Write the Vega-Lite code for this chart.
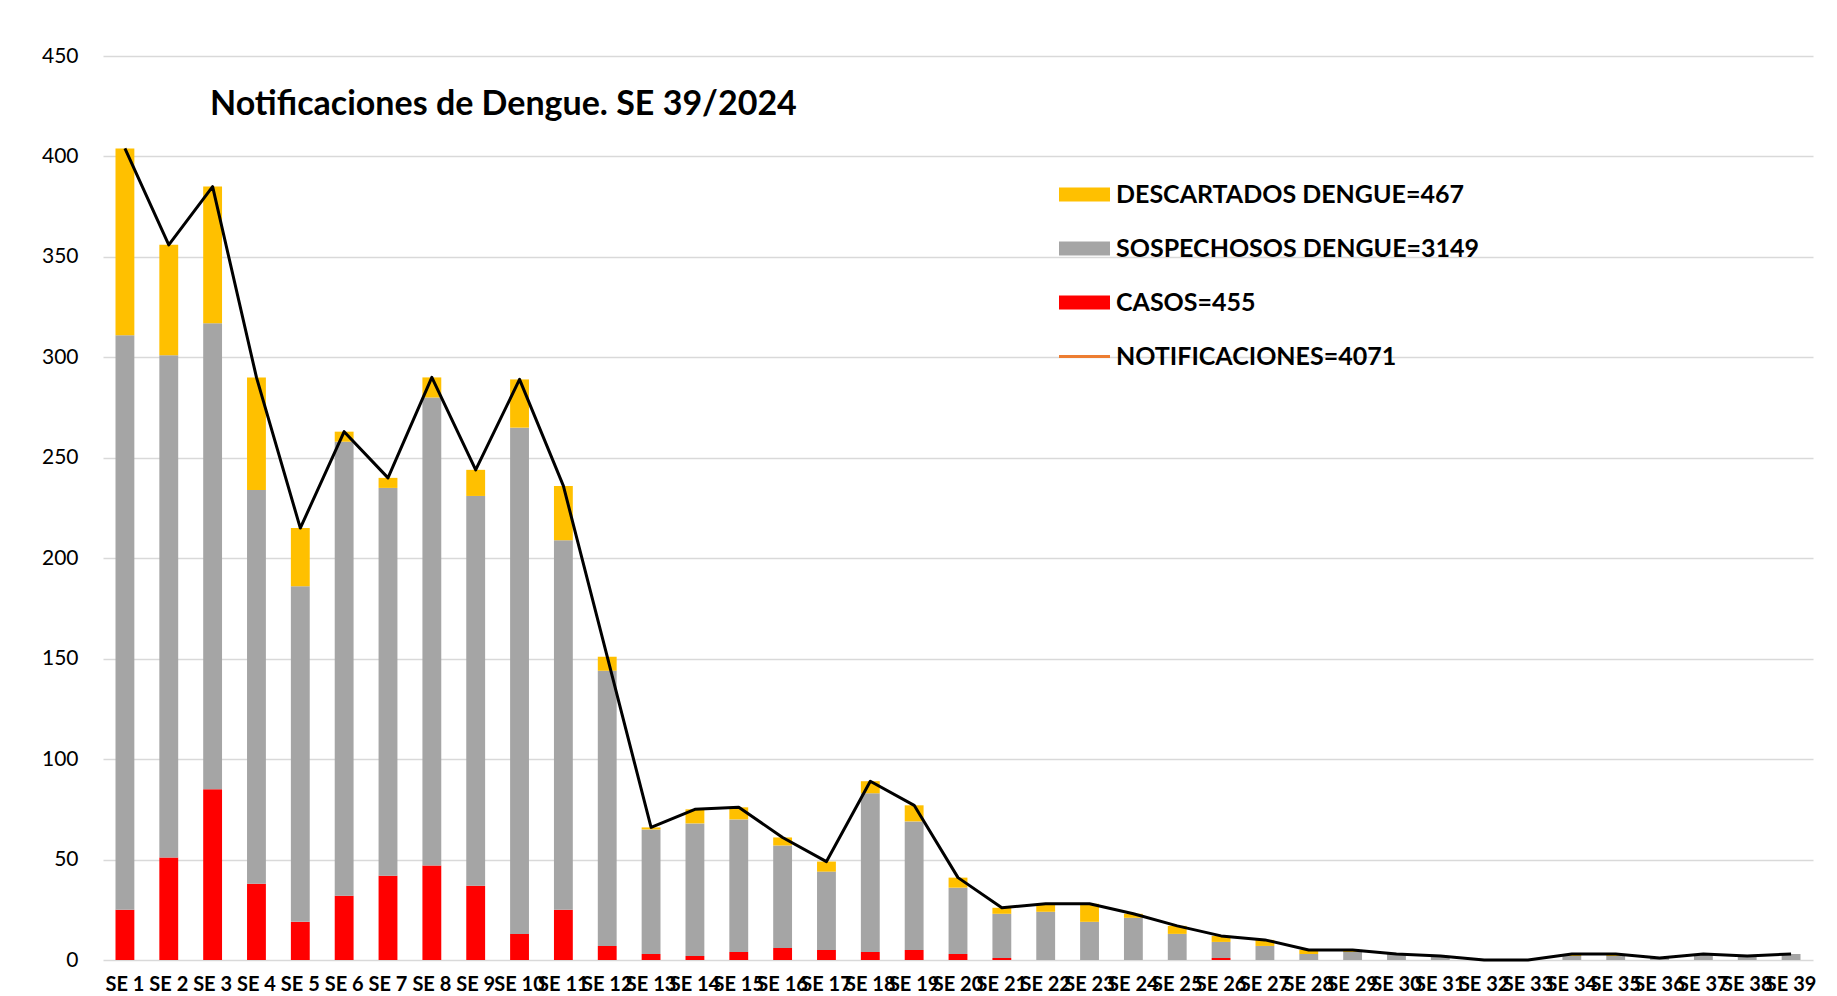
{
"$schema": "https://vega.github.io/schema/vega-lite/v6.json",
"width": 1710, "height": 904,
"autosize": {"type": "none"},
"padding": {"left": 103, "top": 56, "right": 24, "bottom": 36},
"background": "white",
"config": {"font": "Lato", "view": {"stroke": null}},
"title": {"text": "Notificaciones de Dengue. SE 39/2024", "anchor": "start", "frame": "group", "dx": 107, "offset": -104, "baseline": "alphabetic", "fontSize": 34, "fontWeight": "bold", "color": "#000000", "font": "Lato"},
"data": {"values": [
{"semana":"SE 1","serie":"CASOS=455","valor":25},{"semana":"SE 1","serie":"SOSPECHOSOS DENGUE=3149","valor":286},{"semana":"SE 1","serie":"DESCARTADOS DENGUE=467","valor":93},{"semana":"SE 1","serie":"NOTIFICACIONES=4071","valor":404},
{"semana":"SE 2","serie":"CASOS=455","valor":51},{"semana":"SE 2","serie":"SOSPECHOSOS DENGUE=3149","valor":250},{"semana":"SE 2","serie":"DESCARTADOS DENGUE=467","valor":55},{"semana":"SE 2","serie":"NOTIFICACIONES=4071","valor":356},
{"semana":"SE 3","serie":"CASOS=455","valor":85},{"semana":"SE 3","serie":"SOSPECHOSOS DENGUE=3149","valor":232},{"semana":"SE 3","serie":"DESCARTADOS DENGUE=467","valor":68},{"semana":"SE 3","serie":"NOTIFICACIONES=4071","valor":385},
{"semana":"SE 4","serie":"CASOS=455","valor":38},{"semana":"SE 4","serie":"SOSPECHOSOS DENGUE=3149","valor":196},{"semana":"SE 4","serie":"DESCARTADOS DENGUE=467","valor":56},{"semana":"SE 4","serie":"NOTIFICACIONES=4071","valor":290},
{"semana":"SE 5","serie":"CASOS=455","valor":19},{"semana":"SE 5","serie":"SOSPECHOSOS DENGUE=3149","valor":167},{"semana":"SE 5","serie":"DESCARTADOS DENGUE=467","valor":29},{"semana":"SE 5","serie":"NOTIFICACIONES=4071","valor":215},
{"semana":"SE 6","serie":"CASOS=455","valor":32},{"semana":"SE 6","serie":"SOSPECHOSOS DENGUE=3149","valor":226},{"semana":"SE 6","serie":"DESCARTADOS DENGUE=467","valor":5},{"semana":"SE 6","serie":"NOTIFICACIONES=4071","valor":263},
{"semana":"SE 7","serie":"CASOS=455","valor":42},{"semana":"SE 7","serie":"SOSPECHOSOS DENGUE=3149","valor":193},{"semana":"SE 7","serie":"DESCARTADOS DENGUE=467","valor":5},{"semana":"SE 7","serie":"NOTIFICACIONES=4071","valor":240},
{"semana":"SE 8","serie":"CASOS=455","valor":47},{"semana":"SE 8","serie":"SOSPECHOSOS DENGUE=3149","valor":233},{"semana":"SE 8","serie":"DESCARTADOS DENGUE=467","valor":10},{"semana":"SE 8","serie":"NOTIFICACIONES=4071","valor":290},
{"semana":"SE 9","serie":"CASOS=455","valor":37},{"semana":"SE 9","serie":"SOSPECHOSOS DENGUE=3149","valor":194},{"semana":"SE 9","serie":"DESCARTADOS DENGUE=467","valor":13},{"semana":"SE 9","serie":"NOTIFICACIONES=4071","valor":244},
{"semana":"SE 10","serie":"CASOS=455","valor":13},{"semana":"SE 10","serie":"SOSPECHOSOS DENGUE=3149","valor":252},{"semana":"SE 10","serie":"DESCARTADOS DENGUE=467","valor":24},{"semana":"SE 10","serie":"NOTIFICACIONES=4071","valor":289},
{"semana":"SE 11","serie":"CASOS=455","valor":25},{"semana":"SE 11","serie":"SOSPECHOSOS DENGUE=3149","valor":184},{"semana":"SE 11","serie":"DESCARTADOS DENGUE=467","valor":27},{"semana":"SE 11","serie":"NOTIFICACIONES=4071","valor":236},
{"semana":"SE 12","serie":"CASOS=455","valor":7},{"semana":"SE 12","serie":"SOSPECHOSOS DENGUE=3149","valor":137},{"semana":"SE 12","serie":"DESCARTADOS DENGUE=467","valor":7},{"semana":"SE 12","serie":"NOTIFICACIONES=4071","valor":151},
{"semana":"SE 13","serie":"CASOS=455","valor":3},{"semana":"SE 13","serie":"SOSPECHOSOS DENGUE=3149","valor":62},{"semana":"SE 13","serie":"DESCARTADOS DENGUE=467","valor":1},{"semana":"SE 13","serie":"NOTIFICACIONES=4071","valor":66},
{"semana":"SE 14","serie":"CASOS=455","valor":2},{"semana":"SE 14","serie":"SOSPECHOSOS DENGUE=3149","valor":66},{"semana":"SE 14","serie":"DESCARTADOS DENGUE=467","valor":7},{"semana":"SE 14","serie":"NOTIFICACIONES=4071","valor":75},
{"semana":"SE 15","serie":"CASOS=455","valor":4},{"semana":"SE 15","serie":"SOSPECHOSOS DENGUE=3149","valor":66},{"semana":"SE 15","serie":"DESCARTADOS DENGUE=467","valor":6},{"semana":"SE 15","serie":"NOTIFICACIONES=4071","valor":76},
{"semana":"SE 16","serie":"CASOS=455","valor":6},{"semana":"SE 16","serie":"SOSPECHOSOS DENGUE=3149","valor":51},{"semana":"SE 16","serie":"DESCARTADOS DENGUE=467","valor":4},{"semana":"SE 16","serie":"NOTIFICACIONES=4071","valor":61},
{"semana":"SE 17","serie":"CASOS=455","valor":5},{"semana":"SE 17","serie":"SOSPECHOSOS DENGUE=3149","valor":39},{"semana":"SE 17","serie":"DESCARTADOS DENGUE=467","valor":5},{"semana":"SE 17","serie":"NOTIFICACIONES=4071","valor":49},
{"semana":"SE 18","serie":"CASOS=455","valor":4},{"semana":"SE 18","serie":"SOSPECHOSOS DENGUE=3149","valor":79},{"semana":"SE 18","serie":"DESCARTADOS DENGUE=467","valor":6},{"semana":"SE 18","serie":"NOTIFICACIONES=4071","valor":89},
{"semana":"SE 19","serie":"CASOS=455","valor":5},{"semana":"SE 19","serie":"SOSPECHOSOS DENGUE=3149","valor":64},{"semana":"SE 19","serie":"DESCARTADOS DENGUE=467","valor":8},{"semana":"SE 19","serie":"NOTIFICACIONES=4071","valor":77},
{"semana":"SE 20","serie":"CASOS=455","valor":3},{"semana":"SE 20","serie":"SOSPECHOSOS DENGUE=3149","valor":33},{"semana":"SE 20","serie":"DESCARTADOS DENGUE=467","valor":5},{"semana":"SE 20","serie":"NOTIFICACIONES=4071","valor":41},
{"semana":"SE 21","serie":"CASOS=455","valor":1},{"semana":"SE 21","serie":"SOSPECHOSOS DENGUE=3149","valor":22},{"semana":"SE 21","serie":"DESCARTADOS DENGUE=467","valor":3},{"semana":"SE 21","serie":"NOTIFICACIONES=4071","valor":26},
{"semana":"SE 22","serie":"CASOS=455","valor":0},{"semana":"SE 22","serie":"SOSPECHOSOS DENGUE=3149","valor":24},{"semana":"SE 22","serie":"DESCARTADOS DENGUE=467","valor":4},{"semana":"SE 22","serie":"NOTIFICACIONES=4071","valor":28},
{"semana":"SE 23","serie":"CASOS=455","valor":0},{"semana":"SE 23","serie":"SOSPECHOSOS DENGUE=3149","valor":19},{"semana":"SE 23","serie":"DESCARTADOS DENGUE=467","valor":9},{"semana":"SE 23","serie":"NOTIFICACIONES=4071","valor":28},
{"semana":"SE 24","serie":"CASOS=455","valor":0},{"semana":"SE 24","serie":"SOSPECHOSOS DENGUE=3149","valor":21},{"semana":"SE 24","serie":"DESCARTADOS DENGUE=467","valor":2},{"semana":"SE 24","serie":"NOTIFICACIONES=4071","valor":23},
{"semana":"SE 25","serie":"CASOS=455","valor":0},{"semana":"SE 25","serie":"SOSPECHOSOS DENGUE=3149","valor":13},{"semana":"SE 25","serie":"DESCARTADOS DENGUE=467","valor":4},{"semana":"SE 25","serie":"NOTIFICACIONES=4071","valor":17},
{"semana":"SE 26","serie":"CASOS=455","valor":1},{"semana":"SE 26","serie":"SOSPECHOSOS DENGUE=3149","valor":8},{"semana":"SE 26","serie":"DESCARTADOS DENGUE=467","valor":3},{"semana":"SE 26","serie":"NOTIFICACIONES=4071","valor":12},
{"semana":"SE 27","serie":"CASOS=455","valor":0},{"semana":"SE 27","serie":"SOSPECHOSOS DENGUE=3149","valor":7},{"semana":"SE 27","serie":"DESCARTADOS DENGUE=467","valor":3},{"semana":"SE 27","serie":"NOTIFICACIONES=4071","valor":10},
{"semana":"SE 28","serie":"CASOS=455","valor":0},{"semana":"SE 28","serie":"SOSPECHOSOS DENGUE=3149","valor":3},{"semana":"SE 28","serie":"DESCARTADOS DENGUE=467","valor":2},{"semana":"SE 28","serie":"NOTIFICACIONES=4071","valor":5},
{"semana":"SE 29","serie":"CASOS=455","valor":0},{"semana":"SE 29","serie":"SOSPECHOSOS DENGUE=3149","valor":4},{"semana":"SE 29","serie":"DESCARTADOS DENGUE=467","valor":1},{"semana":"SE 29","serie":"NOTIFICACIONES=4071","valor":5},
{"semana":"SE 30","serie":"CASOS=455","valor":0},{"semana":"SE 30","serie":"SOSPECHOSOS DENGUE=3149","valor":3},{"semana":"SE 30","serie":"DESCARTADOS DENGUE=467","valor":0},{"semana":"SE 30","serie":"NOTIFICACIONES=4071","valor":3},
{"semana":"SE 31","serie":"CASOS=455","valor":0},{"semana":"SE 31","serie":"SOSPECHOSOS DENGUE=3149","valor":2},{"semana":"SE 31","serie":"DESCARTADOS DENGUE=467","valor":0},{"semana":"SE 31","serie":"NOTIFICACIONES=4071","valor":2},
{"semana":"SE 32","serie":"CASOS=455","valor":0},{"semana":"SE 32","serie":"SOSPECHOSOS DENGUE=3149","valor":0},{"semana":"SE 32","serie":"DESCARTADOS DENGUE=467","valor":0},{"semana":"SE 32","serie":"NOTIFICACIONES=4071","valor":0},
{"semana":"SE 33","serie":"CASOS=455","valor":0},{"semana":"SE 33","serie":"SOSPECHOSOS DENGUE=3149","valor":0},{"semana":"SE 33","serie":"DESCARTADOS DENGUE=467","valor":0},{"semana":"SE 33","serie":"NOTIFICACIONES=4071","valor":0},
{"semana":"SE 34","serie":"CASOS=455","valor":0},{"semana":"SE 34","serie":"SOSPECHOSOS DENGUE=3149","valor":2},{"semana":"SE 34","serie":"DESCARTADOS DENGUE=467","valor":1},{"semana":"SE 34","serie":"NOTIFICACIONES=4071","valor":3},
{"semana":"SE 35","serie":"CASOS=455","valor":0},{"semana":"SE 35","serie":"SOSPECHOSOS DENGUE=3149","valor":2},{"semana":"SE 35","serie":"DESCARTADOS DENGUE=467","valor":1},{"semana":"SE 35","serie":"NOTIFICACIONES=4071","valor":3},
{"semana":"SE 36","serie":"CASOS=455","valor":0},{"semana":"SE 36","serie":"SOSPECHOSOS DENGUE=3149","valor":1},{"semana":"SE 36","serie":"DESCARTADOS DENGUE=467","valor":0},{"semana":"SE 36","serie":"NOTIFICACIONES=4071","valor":1},
{"semana":"SE 37","serie":"CASOS=455","valor":0},{"semana":"SE 37","serie":"SOSPECHOSOS DENGUE=3149","valor":3},{"semana":"SE 37","serie":"DESCARTADOS DENGUE=467","valor":0},{"semana":"SE 37","serie":"NOTIFICACIONES=4071","valor":3},
{"semana":"SE 38","serie":"CASOS=455","valor":0},{"semana":"SE 38","serie":"SOSPECHOSOS DENGUE=3149","valor":2},{"semana":"SE 38","serie":"DESCARTADOS DENGUE=467","valor":0},{"semana":"SE 38","serie":"NOTIFICACIONES=4071","valor":2},
{"semana":"SE 39","serie":"CASOS=455","valor":0},{"semana":"SE 39","serie":"SOSPECHOSOS DENGUE=3149","valor":3},{"semana":"SE 39","serie":"DESCARTADOS DENGUE=467","valor":0},{"semana":"SE 39","serie":"NOTIFICACIONES=4071","valor":3}
]},
"encoding": {
  "x": {"field": "semana", "type": "nominal", "sort": null, "title": null,
    "scale": {"paddingInner": 0.57, "paddingOuter": 0.285},
    "axis": {"domain": false, "ticks": false, "grid": false, "labelAngle": 0, "labelFontSize": 20, "labelFontWeight": "bold", "labelColor": "#000000", "labelPadding": 14, "labelOverlap": false, "labelBound": false, "labelFont": "Lato", "labelLimit": 0}},
  "y": {"field": "valor", "type": "quantitative", "title": null,
    "scale": {"domain": [0, 450], "nice": false},
    "axis": {"values": [0,50,100,150,200,250,300,350,400,450], "domain": false, "ticks": false, "labelFontSize": 21, "labelColor": "#000000", "labelPadding": 25, "gridColor": "#D9D9D9", "gridWidth": 1.5, "labelFont": "Lato"}}
},
"layer": [
  {"transform": [
     {"filter": "datum.serie !== 'NOTIFICACIONES=4071'"},
     {"lookup": "serie", "from": {"data": {"values": [
        {"serie": "CASOS=455", "orden": 1},
        {"serie": "SOSPECHOSOS DENGUE=3149", "orden": 2},
        {"serie": "DESCARTADOS DENGUE=467", "orden": 3}]}, "key": "serie", "fields": ["orden"]}}
   ],
   "mark": {"type": "bar"},
   "encoding": {
     "y": {"field": "valor", "type": "quantitative", "stack": "zero"},
     "order": {"field": "orden", "type": "quantitative", "sort": "ascending"},
     "color": {"field": "serie", "type": "nominal",
       "scale": {"domain": ["DESCARTADOS DENGUE=467", "SOSPECHOSOS DENGUE=3149", "CASOS=455", "NOTIFICACIONES=4071"], "range": ["#FFC000", "#A5A5A5", "#FF0000", "#ED7D31"]},
       "legend": {"orient": "none", "legendX": 956, "legendY": 113, "title": null,
         "symbolType": "M-1,-0.275L1,-0.275L1,0.275L-1,0.275Z", "symbolSize": 2601, "symbolStrokeWidth": 0,
         "labelFontSize": 25, "labelFontWeight": "bold", "labelColor": "#000000", "labelFont": "Lato", "labelOffset": 6, "labelLimit": 0, "rowPadding": 15,
         "encode": {"symbols": {"update": {"shape": {"signal": "datum.value === 'NOTIFICACIONES=4071' ? 'M-1,-0.06L1,-0.06L1,0.06L-1,0.06Z' : 'M-1,-0.275L1,-0.275L1,0.275L-1,0.275Z'"}}}}}}
   }},
  {"transform": [{"filter": "datum.serie === 'NOTIFICACIONES=4071'"}],
   "mark": {"type": "line", "color": "#000000", "strokeWidth": 3, "strokeJoin": "round"},
   "encoding": {}}
]
}
